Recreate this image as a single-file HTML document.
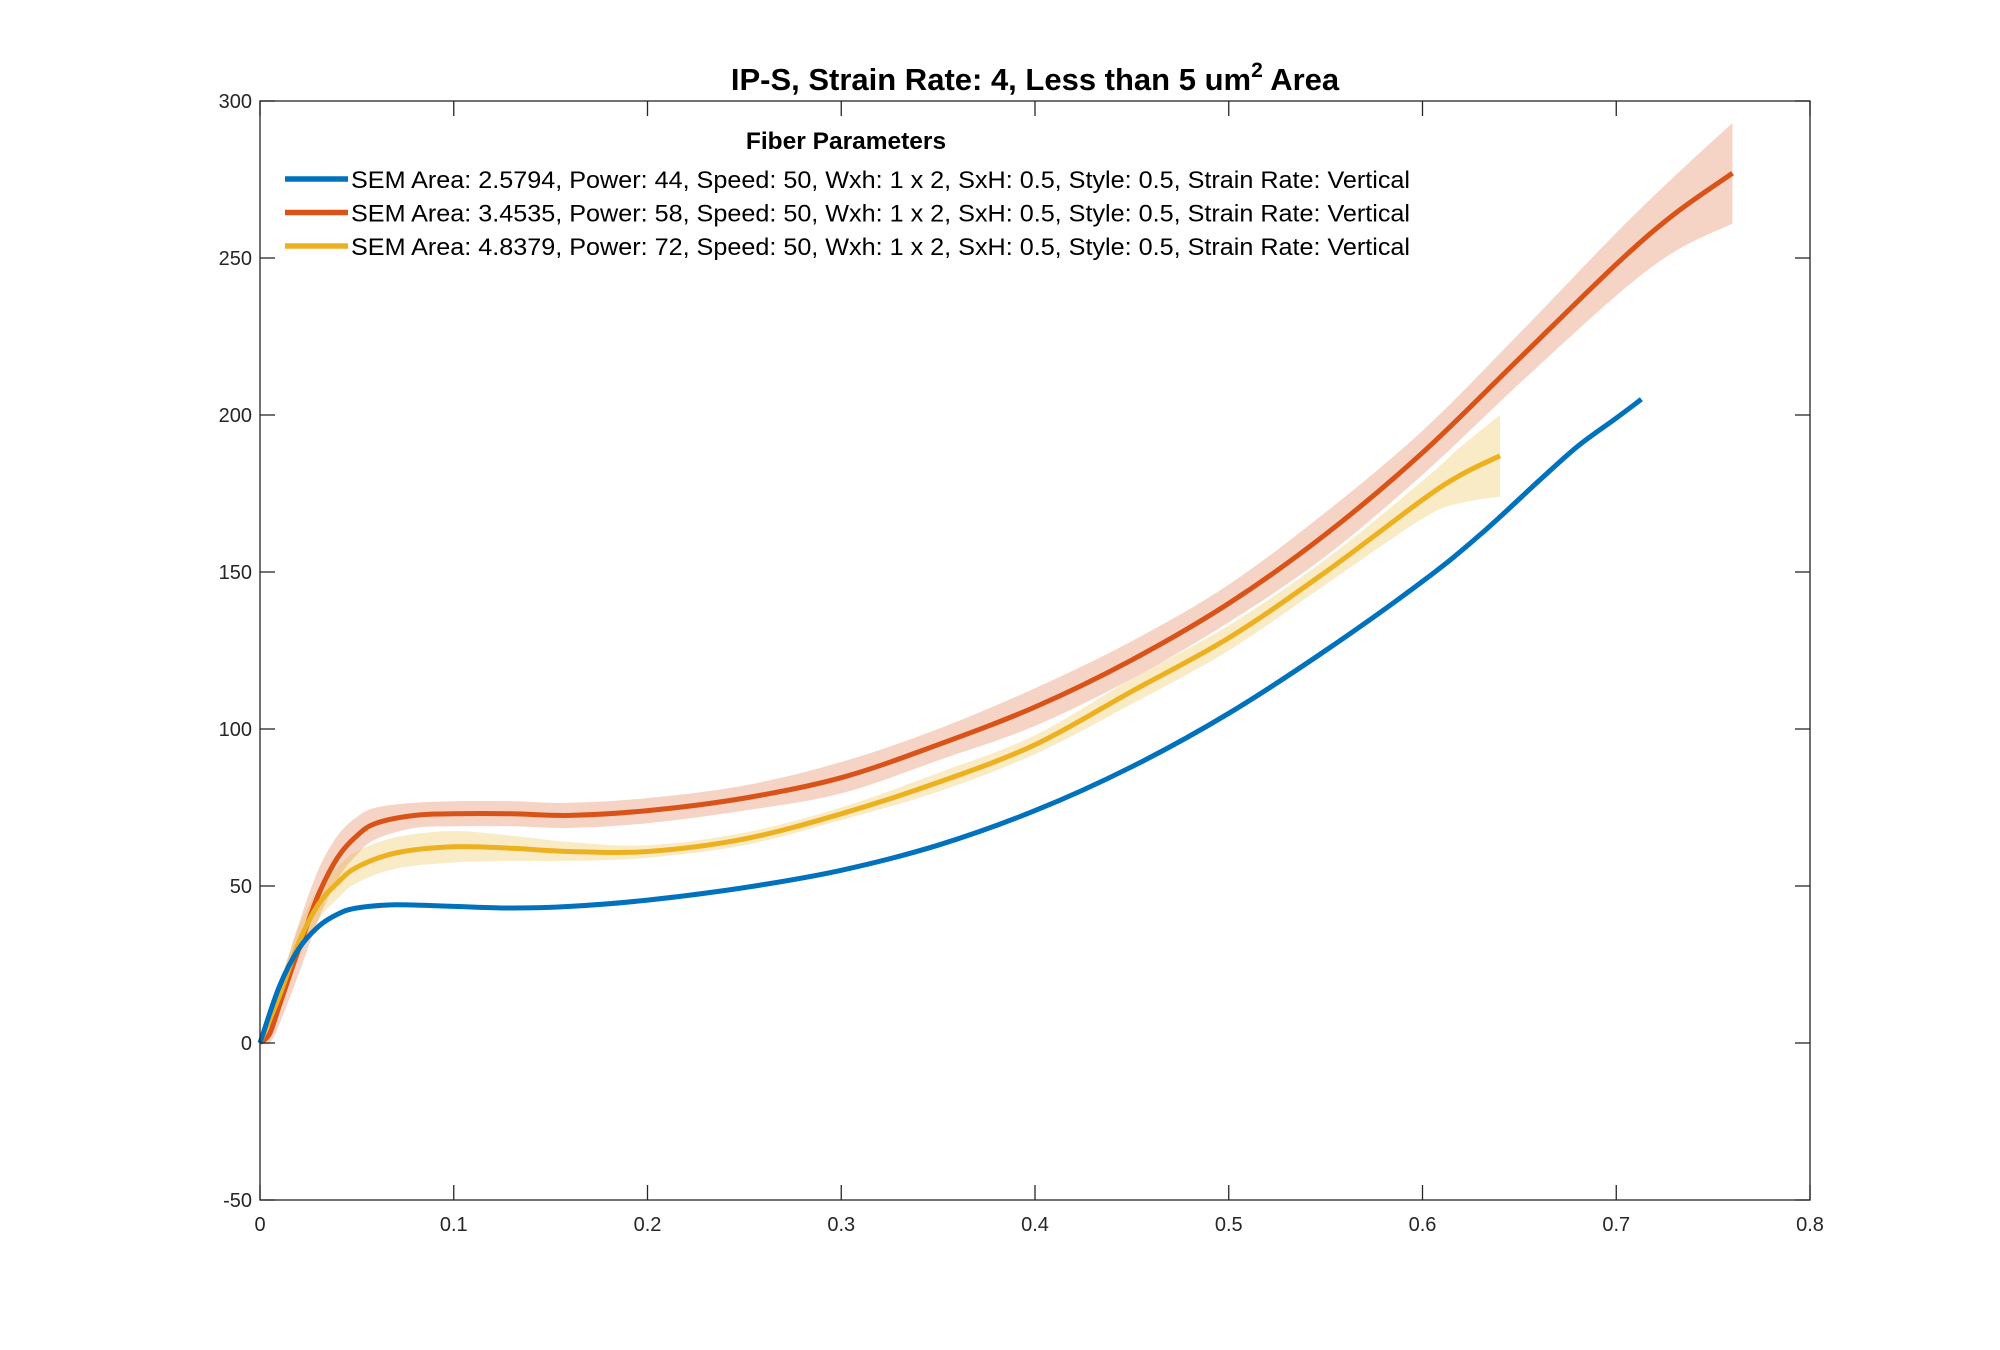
<!DOCTYPE html>
<html><head><meta charset="utf-8"><style>
body{margin:0;background:#fff;}
svg{display:block;font-family:"Liberation Sans",Arial,sans-serif;}
</style></head><body>
<svg id="chart" width="2000" height="1350" viewBox="0 0 2000 1350" xmlns="http://www.w3.org/2000/svg">
<rect width="2000" height="1350" fill="#fff"/>
<text x="1035" y="90" text-anchor="middle" font-size="31" font-weight="bold" fill="#000">IP-S, Strain Rate: 4, Less than 5 um<tspan font-size="21" dy="-13">2</tspan><tspan dy="13"> Area</tspan></text>
<g id="bands"></g><g id="lines"></g>
<rect x="260" y="101" width="1550" height="1099" fill="none" stroke="#262626" stroke-width="1.3"/>
<g id="ticks"></g>
<g id="legend">
<text x="846" y="149" text-anchor="middle" font-size="24.5" font-weight="bold">Fiber Parameters</text>
</g>
</svg>
<script>
const xTicks=[0,0.1,0.2,0.3,0.4,0.5,0.6,0.7,0.8];
const yTicks=[-50,0,50,100,150,200,250,300];
const blueX=[0,0.01,0.02,0.03,0.04,0.05,0.07,0.1,0.13,0.16,0.2,0.25,0.3,0.35,0.4,0.45,0.5,0.55,0.6,0.63,0.66,0.68,0.7,0.713];
const blueY=[0,18,30,37,41,43,44,43.5,43,43.5,45.5,49.5,55,63,74,88,105,125,147,162,179,190,199,205];
const redX=[0,0.005,0.01,0.02,0.03,0.04,0.05,0.06,0.08,0.1,0.13,0.16,0.2,0.25,0.3,0.35,0.4,0.45,0.5,0.55,0.6,0.65,0.7,0.73,0.76];
const redY=[0,3,12,30,47,59,66,70,72.5,73,73,72.5,74,78,84.5,95,107,122,140,162,188,218,248,264,277];
const redErr=[2,4,6,8,8,7,6,5,4,4,4,4,4,4,5,5,6,6,6,7,7,8,10,12,16];
const yelX=[0,0.01,0.02,0.03,0.04,0.05,0.07,0.1,0.13,0.16,0.2,0.25,0.3,0.35,0.4,0.45,0.5,0.55,0.6,0.62,0.64];
const yelY=[0,15,32,44,51,56,60.5,62.5,62,61,61,65,73,83,95,112,129,150,173,181,187];
const yelErr=[1,4,5,5,5,5,5,5,4,3,2,2,2,3,3,4,4,4,6,9,13];
const legendLabels=["SEM Area: 2.5794, Power: 44, Speed: 50, Wxh: 1 x 2, SxH: 0.5, Style: 0.5, Strain Rate: Vertical","SEM Area: 3.4535, Power: 58, Speed: 50, Wxh: 1 x 2, SxH: 0.5, Style: 0.5, Strain Rate: Vertical","SEM Area: 4.8379, Power: 72, Speed: 50, Wxh: 1 x 2, SxH: 0.5, Style: 0.5, Strain Rate: Vertical"];
const L=260,R=1810,T=101,B=1200;
const sx=v=>L+(v-0)/(0.8)*(R-L);
const sy=v=>B-(v+50)/350*(B-T);
const NS="http://www.w3.org/2000/svg";
function mk(tag,attrs,parent){const e=document.createElementNS(NS,tag);for(const k in attrs)e.setAttribute(k,attrs[k]);parent.appendChild(e);return e;}
function smooth(pts){let d="M"+pts[0][0].toFixed(1)+","+pts[0][1].toFixed(1);
for(let i=0;i<pts.length-1;i++){const p0=pts[Math.max(0,i-1)],p1=pts[i],p2=pts[i+1],p3=pts[Math.min(pts.length-1,i+2)];
const c1=[p1[0]+(p2[0]-p0[0])/6,p1[1]+(p2[1]-p0[1])/6],c2=[p2[0]-(p3[0]-p1[0])/6,p2[1]-(p3[1]-p1[1])/6];
d+="C"+c1[0].toFixed(1)+","+c1[1].toFixed(1)+" "+c2[0].toFixed(1)+","+c2[1].toFixed(1)+" "+p2[0].toFixed(1)+","+p2[1].toFixed(1);}return d;}
const bands=document.getElementById('bands'),lines=document.getElementById('lines'),ticks=document.getElementById('ticks'),legend=document.getElementById('legend');
function band(xs,ys,es,color,name){
const up=xs.map((x,i)=>[sx(x),sy(ys[i]+es[i])]);const lo=xs.map((x,i)=>[sx(x),sy(Math.max(ys[i]-es[i],0))]).reverse();
const d=smooth(up)+"L"+smooth(lo).slice(1)+"Z";
const p=mk('path',{d:d,fill:color,'fill-opacity':0.25,stroke:'none'},bands);

}
function line(xs,ys,color,name){
const p=mk('path',{d:smooth(xs.map((x,i)=>[sx(x),sy(ys[i])])),fill:'none',stroke:color,'stroke-width':5,'stroke-linejoin':'round'},lines);

}
band(redX,redY,redErr,'#D95319','red-error-band');
band(yelX,yelY,yelErr,'#EDB120','yellow-error-band');
line(redX,redY,'#D95319','red-series-line');
line(yelX,yelY,'#EDB120','yellow-series-line');
line(blueX,blueY,'#0072BD','blue-series-line');
xTicks.forEach(v=>{const x=sx(v);
mk('line',{x1:x,x2:x,y1:B,y2:B-15,stroke:'#262626','stroke-width':1.3},ticks);
mk('line',{x1:x,x2:x,y1:T,y2:T+15,stroke:'#262626','stroke-width':1.3},ticks);
const t=mk('text',{x:x,y:B+31,'text-anchor':'middle','font-size':20,fill:'#262626'},ticks);t.textContent=String(v);

});
yTicks.forEach(v=>{const y=sy(v);
mk('line',{x1:L,x2:L+15,y1:y,y2:y,stroke:'#262626','stroke-width':1.3},ticks);
mk('line',{x1:R,x2:R-15,y1:y,y2:y,stroke:'#262626','stroke-width':1.3},ticks);
const t=mk('text',{x:L-8,y:y+7,'text-anchor':'end','font-size':20,fill:'#262626'},ticks);t.textContent=String(v);

});
const cols=['#0072BD','#D95319','#EDB120'];
legendLabels.forEach((s,i)=>{const y=179+i*33.5;
const l=mk('line',{x1:285,x2:348,y1:y,y2:y,stroke:cols[i],'stroke-width':5.5},legend);


const t=mk('text',{x:351,y:y+9,'font-size':24.5,fill:'#000',textLength:1059,lengthAdjust:'spacingAndGlyphs'},legend);t.textContent=s;

});
</script>
</body></html>
